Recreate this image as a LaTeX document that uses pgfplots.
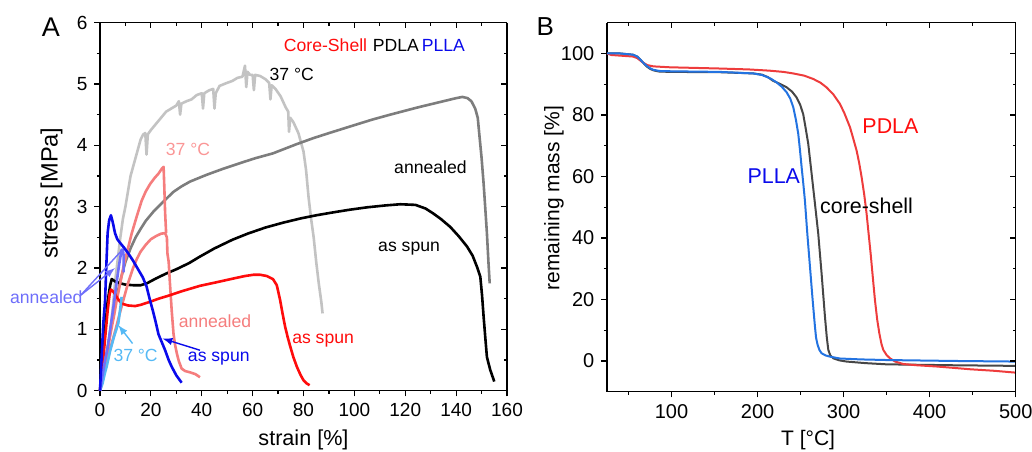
\documentclass[border=0pt]{standalone}
\usepackage{pgfplots}
\pgfplotsset{compat=1.18}
\usepackage{fontspec}
\setmainfont{Liberation Sans}

\definecolor{csred}{RGB}{255,12,12}
\definecolor{salmon}{RGB}{245,125,125}
\definecolor{pink37}{RGB}{250,150,150}
\definecolor{dgray}{RGB}{125,125,125}
\definecolor{lgray}{RGB}{195,195,195}
\definecolor{pblue}{RGB}{10,10,235}
\definecolor{peri}{RGB}{110,110,250}
\definecolor{sky}{RGB}{85,185,245}
\definecolor{tgared}{RGB}{238,60,60}
\definecolor{tgablue}{RGB}{35,115,225}
\definecolor{tgagray}{RGB}{70,70,70}

\pgfplotsset{
  base/.style={scale only axis, anchor=south west, clip=false,
    axis line style={line width=0.6pt,-}, tick style={line width=0.6pt,black},
    major tick length=2.8pt, minor tick length=1.6pt,
    /pgf/number format/assume math mode=true,
    tick label style={font=\fontsize{9.5}{11}\selectfont}},
  lowleft/.style={axis x line*=bottom, axis y line*=left, tick align=outside},
  upright/.style={axis x line*=top, axis y line*=right, tick align=inside,
    xticklabels={}, yticklabels={}},
  panelA/.style={base, at={(50pt,30.15pt)}, width=203.5pt, height=184pt,
    xmin=0, xmax=160, ymin=0, ymax=6, xtick={0,20,...,160}, ytick={0,1,...,6},
    minor x tick num=1, minor y tick num=1},
  panelB/.style={base, at={(303.5pt,29.65pt)}, width=204.35pt, height=184.5pt,
    xmin=25, xmax=500, ymin=-10, ymax=110, xtick={100,200,...,500}, ytick={0,20,...,100},
    minor xtick={50,150,250,350,450}, minor ytick={10,30,50,70,90}},
  cA/.style={line width=1.3pt, line join=round},
  cB/.style={line width=1.0pt, line join=round},
}

\begin{document}
\begin{tikzpicture}
\useasboundingbox (0,0) rectangle (516pt,225.5pt);

% ---------------- panel A: stress-strain ----------------
\begin{axis}[panelA, lowleft,
  xlabel={strain [\%]}, ylabel={stress [MPa]},
  xlabel style={font=\fontsize{10.8}{12}\selectfont, at={(axis description cs:0.5,-0.133)}, anchor=center},
  ylabel style={font=\fontsize{11.8}{13}\selectfont, at={(axis description cs:-0.119,0.537)}, anchor=center}]

% PDLA 37 C
\addplot[cA, lgray] coordinates {
(0,0)(1,0.15)(2,0.4)(3,0.7)(4,0.95)(5,1.35)(6,1.8)(7,2.15)(8,2.5)(9,2.8)(10,3.0)
(11,3.25)(12,3.5)(13,3.65)(14,3.8)(15,3.95)(16,4.1)(17,4.18)(17.8,4.2)(18.3,3.85)(18.8,4.18)
(20,4.25)(22,4.35)(24,4.45)(26,4.55)(28,4.6)(30,4.65)(31,4.72)(31.5,4.5)(32,4.68)(34,4.72)
(36,4.75)(38,4.82)(40,4.85)(40.5,4.6)(41,4.85)(43,4.9)(44.5,4.92)(45,4.6)(45.5,4.85)(47,4.97)
(50,5.02)(52,5.05)(54,5.1)(56,5.12)(57,5.3)(57.5,4.95)(58,5.2)(59,5.15)(60,5.15)(60.5,4.9)
(61,5.15)(63,5.13)(65,5.08)(66.5,5.02)(67,4.75)(67.5,4.98)(69,4.92)(71,4.8)(73,4.62)(74,4.55)
(74.3,4.22)(74.8,4.45)(76,4.38)(78,4.2)(79,4.05)(80,3.9)(81,3.6)(82,3.15)(83,2.8)(84,2.5)
(85,2.1)(86,1.75)(87,1.45)(87.5,1.26)};
% PDLA annealed
\addplot[cA, dgray] coordinates {
(0,0)(2,0.45)(4,0.95)(6,1.42)(8,1.8)(10,2.1)(12,2.32)(14,2.5)(16,2.64)(18,2.77)(21,2.92)
(25.6,3.11)(28.8,3.24)(32,3.33)(35.4,3.41)(41.9,3.52)(48.5,3.62)(55,3.71)(61,3.79)(68,3.87)
(77.3,4.02)(84,4.12)(90,4.2)(100,4.33)(107,4.42)(114,4.50)(125,4.62)(133,4.70)(140,4.77)
(142.5,4.79)(144.5,4.77)(146,4.72)(147.5,4.6)(148.5,4.45)(149.3,4.1)(150,3.8)(150.8,3.38)
(151.5,2.95)(152.1,2.57)(152.7,2.1)(153.2,1.75)};
% PDLA as spun
\addplot[cA, black] coordinates {
(0,0)(1,0.5)(2,1.0)(3,1.45)(4,1.72)(4.6,1.82)(6,1.78)(8,1.75)(10,1.73)(13,1.72)(16,1.72)
(18.4,1.75)(22,1.83)(26,1.91)(30,1.98)(35,2.08)(39,2.18)(45,2.32)(52,2.46)(58,2.56)(65,2.66)
(72,2.74)(79,2.81)(85,2.86)(92,2.91)(98,2.95)(105,2.99)(112,3.02)(118,3.04)(124,3.03)
(128,2.97)(131,2.89)(134,2.8)(137.7,2.67)(141,2.52)(144.3,2.35)(146.5,2.2)(148.2,2.02)
(149.5,1.86)(150.2,1.55)(150.8,1.21)(151.5,0.85)(152.1,0.55)(153.4,0.34)(155,0.15)};
% Core-Shell 37 C
\addplot[cA, salmon] coordinates {
(0,0)(2,0.4)(4,0.9)(5.5,1.22)(6.6,1.48)(8,1.76)(9.2,2.02)(11,2.32)(12.5,2.57)(14.5,2.85)
(16.4,3.1)(18,3.25)(19.7,3.37)(21.5,3.47)(23,3.54)(24.3,3.62)(25,3.65)(25.3,3.3)(25.6,2.9)(26,2.57)};
% Core-Shell annealed
\addplot[cA, salmon] coordinates {
(0,0)(2,0.35)(4,0.68)(6,0.98)(7.5,1.22)(9,1.45)(11,1.75)(13,2.0)(14.5,2.15)(16,2.27)(18,2.38)
(20,2.47)(22,2.52)(24,2.56)(25.6,2.57)(26.3,2.5)(26.5,2.24)(27,2.1)(27.5,1.75)(28.2,1.3)
(28.9,0.93)(29.5,0.75)(30.2,0.61)(31,0.48)(32.1,0.36)(33.5,0.32)(35.4,0.3)(37.5,0.27)(39.3,0.22)};
% Core-Shell as spun
\addplot[cA, csred] coordinates {
(0,0)(1,0.4)(2,0.85)(3,1.3)(3.8,1.58)(4.3,1.65)(5.5,1.6)(7,1.5)(8.5,1.42)(11,1.39)(13.8,1.38)
(16,1.40)(19.7,1.45)(23,1.5)(26.2,1.54)(32,1.62)(39.3,1.71)(46,1.77)(52.5,1.83)(57,1.87)
(60.3,1.89)(63,1.89)(65.6,1.87)(68,1.82)(69.5,1.72)(70.8,1.48)(71.8,1.25)(72.8,1.04)
(73.8,0.87)(74.8,0.72)(76,0.55)(77.4,0.39)(78.8,0.26)(80,0.17)(81.2,0.12)(82.4,0.09)};
% PLLA 37 C
\addplot[cA, sky] coordinates {
(0,0)(1,0.12)(2,0.3)(2.6,0.39)(4,0.65)(5.5,0.88)(7.2,1.1)(8,1.35)(8.5,1.53)};
% PLLA annealed
\addplot[cA, peri] coordinates {
(0,0)(1,0.25)(2,0.5)(3,0.7)(4,1.0)(5,1.28)(5.6,1.47)(6.5,1.75)(7.5,2.05)(8.5,2.3)(9,2.3)(9.3,2.2)(9.3,1.93)};
% PLLA as spun
\addplot[cA, pblue] coordinates {
(0,0)(0.7,0.6)(1.3,1.1)(2,1.47)(2.5,2.05)(3,2.57)(3.6,2.78)(4.3,2.86)(5,2.75)(5.9,2.57)
(6.8,2.47)(7.9,2.41)(9.5,2.33)(11.1,2.24)(13,2.12)(15.1,1.97)(16.8,1.85)(18.3,1.70)(19.5,1.5)
(21,1.27)(22,1.1)(23,0.92)(24,0.82)(25.6,0.66)(27,0.5)(28.2,0.39)(30,0.25)(32.1,0.13)};

\begin{scope}[font=\fontsize{8.8}{10}\selectfont]
\node at (axis cs:107.9,5.64) {\textcolor{csred}{Core-Shell}\,\,PDLA\,\textcolor{pblue}{PLLA}};
\node at (axis cs:75.4,5.16) {37 °C};
\node[pink37] at (axis cs:34.6,3.94) {37 °C};
\node at (axis cs:129.9,3.64) {annealed};
\node at (axis cs:121.5,2.32) {as spun};
\node[salmon] at (axis cs:45.2,1.125) {annealed};
\node[csred] at (axis cs:87.7,0.81) {as spun};
\node[pblue] at (axis cs:46.7,0.53) {as spun};
\node[sky] at (axis cs:14.0,0.57) {37 °C};
\node[peri] at (axis cs:-21.1,1.53) {annealed};
\end{scope}
\draw[pblue, line width=0.7pt, -latex] (axis cs:39.3,0.66) -- (axis cs:24.6,0.85);
\draw[sky, line width=0.7pt, -latex] (axis cs:12.8,0.77) -- (axis cs:7.2,1.07);
\draw[peri, line width=0.7pt, -latex] (axis cs:-7.5,1.56) -- (axis cs:5.9,2.0);
\draw[peri, line width=0.7pt] (axis cs:-7.5,1.56) -- (axis cs:8.6,2.29);
\end{axis}
\begin{axis}[panelA, upright]
\end{axis}

% ---------------- panel B: TGA ----------------
\begin{axis}[panelB, lowleft,
  xlabel={T [°C]}, ylabel={remaining mass [\%]},
  tick label style={font=\fontsize{10}{12}\selectfont},
  xlabel style={font=\fontsize{10.5}{12}\selectfont, at={(axis description cs:0.492,-0.131)}, anchor=center},
  ylabel style={font=\fontsize{10.5}{12}\selectfont, at={(axis description cs:-0.13,0.525)}, anchor=center}]

\addplot[cB, tgagray] coordinates {
(25,100)(40,100)(55,99.6)(60,99)(63,98.2)(67,97)(71,95.8)(75,95)(79,94.5)(86,94.1)(100,94)
(156,93.9)(195,93.5)(205,93.1)(212,92.3)(218,91.1)(226,90.1)(233.7,89)(240,87.6)(245.3,85.7)
(249.5,83.3)(253,80.3)(256,75.5)(258.9,70.6)(262.8,60.9)(266.7,51.1)(270.5,41.4)(274.4,28.4)
(278.3,14.4)(280.5,7.5)(282.2,3.6)(284.5,1.8)(288,0.86)(295,0.2)(303.5,-0.2)(325,-0.7)
(350,-1.1)(427.5,-1.4)(500,-1.6)};
\addplot[cB, tgared] coordinates {
(25,100)(30,99.5)(40,99.3)(55,99)(60,98.5)(67,97)(72,96.2)(78.7,95.8)(98,95.5)(156,95.1)
(190,94.8)(214,94.4)(230,94)(241.5,93.5)(254,92.8)(264.7,91.7)(273,90.5)(280,89)(288,86.7)
(295.7,83.6)(301,80.5)(307.4,76)(311,72.5)(315.1,68.4)(318,64.5)(320.9,59.8)(324,54)
(326.7,47.9)(329,41.5)(331.4,34.9)(334,27)(336.4,19.8)(339,13.5)(341.5,9.0)(344,5.5)
(346.1,3.6)(350,1.9)(353.9,0.86)(360,-0.2)(369.4,-1.0)(385,-1.4)(408,-1.8)(430,-2.3)
(447,-2.7)(475,-3.2)(500,-3.8)};
\addplot[cB, tgablue] coordinates {
(25,100)(40,100)(55,99.6)(60,99)(63,98.2)(67,97)(71,96)(75,95.2)(78.7,94.7)(86,94.3)(100,94.2)
(156,94)(195,93.5)(205,93)(210.5,92.4)(216,91.7)(222,90.6)(228,89.2)(233.7,87.4)(238,85.3)
(241.5,82.5)(244.5,78.5)(247.3,73.8)(249.3,68.5)(251.2,63)(253.2,57.5)(255,52.2)(257.8,41.4)
(260.9,30.6)(264,19.8)(266.7,11.1)(268,7.5)(269.8,5.2)(272,3.5)(274.4,2.5)(279,1.8)
(284.1,1.4)(295.7,0.8)(320,0.5)(350,0.3)(427.5,0)(500,-0.2)};

\begin{scope}[font=\fontsize{10.7}{12}\selectfont]
\node[csred] at (axis cs:354.4,76.2) {PDLA};
\node[pblue] at (axis cs:218.8,60) {PLLA};
\node at (axis cs:326.7,50.6) {core-shell};
\end{scope}
\end{axis}
\begin{axis}[panelB, upright]
\end{axis}

\node[font=\fontsize{13.5}{15}\selectfont] at (25.4pt,211.8pt) {A};
\node[font=\fontsize{13}{15}\selectfont] at (272.7pt,212.2pt) {B};
\end{tikzpicture}
\end{document}
